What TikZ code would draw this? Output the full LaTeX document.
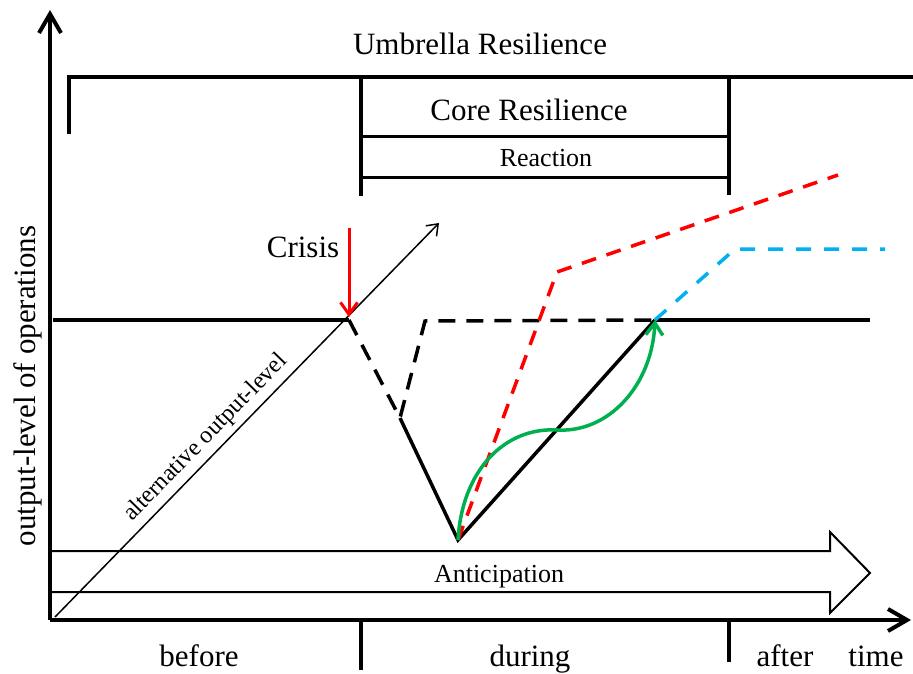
\documentclass[tikz,border=0pt]{standalone}
\usepackage{fontspec}
\setmainfont{Liberation Serif}
\usetikzlibrary{arrows.meta}
\definecolor{redline}{RGB}{255,0,0}
\definecolor{cyanline}{RGB}{0,176,240}
\definecolor{greenline}{RGB}{0,176,80}
\tikzset{
  lbl/.style={inner sep=0pt, anchor=base, font=\fontsize{31}{37}\selectfont},
  smalllbl/.style={inner sep=0pt, anchor=base, font=\fontsize{26}{31}\selectfont},
  axisline/.style={line width=4pt, -{Straight Barb[length=19pt,width=22pt]}},
  bracket/.style={line width=4pt},
  thinbracket/.style={line width=3pt},
  tickmark/.style={line width=4pt},
  levelline/.style={line width=3.5pt},
  curveline/.style={line width=3.5pt, line join=miter},
  blackdash/.style={line width=3.5pt, dash pattern=on 17pt off 11pt},
  reddash/.style={line width=3.5pt, redline, dash pattern=on 15pt off 11pt},
  cyandash/.style={line width=3.5pt, cyanline, dash pattern=on 15pt off 13pt},
  greenarc/.style={line width=3.5pt, greenline, -{Straight Barb[length=12pt,width=17pt]}},
  crisisarrow/.style={line width=3pt, redline, -{Straight Barb[length=12pt,width=17pt]}},
  diagarrow/.style={line width=1.5pt, -{Straight Barb[length=10pt,width=15pt]}},
  anticip/.style={line width=2pt, line join=miter},
}
\begin{document}
\begin{tikzpicture}[x=1pt,y=-1pt]
\useasboundingbox (0,0) rectangle (913,674);

% key points
\coordinate (origin) at (50,620);
\coordinate (ytip) at (50,10);
\coordinate (xtip) at (911,620);
\coordinate (lvlL) at (53,320);
\coordinate (crisis) at (349,320);
\coordinate (vtop) at (400,418);
\coordinate (dashup) at (425,321);
\coordinate (bottom) at (458,540);
\coordinate (peak) at (655,320);
\coordinate (lvlR) at (870,320);
\coordinate (redkink) at (557,272);
\coordinate (redend) at (838,175);
\coordinate (cyankink) at (735,249);
\coordinate (cyanend) at (885,249);
\coordinate (gmid) at (557,430);
\coordinate (diagS) at (55,617);
\coordinate (diagE) at (439,223);
\coordinate (crisisS) at (349,228);
\coordinate (crisisE) at (349,317);

% bracket coordinates
\coordinate (uL) at (69,134);
\coordinate (uLt) at (69,77);
\coordinate (uR) at (913,77);
\coordinate (cLt) at (361,77);
\coordinate (cLb) at (361,196);
\coordinate (cRt) at (729,77);
\coordinate (cRb) at (729,195);
\coordinate (c1L) at (361,137);
\coordinate (c1R) at (729,137);
\coordinate (c2L) at (361,177);
\coordinate (c2R) at (729,177);

% ticks
\coordinate (t1a) at (361,620);
\coordinate (t1b) at (361,670);
\coordinate (t2a) at (729,620);
\coordinate (t2b) at (729,662);

% anticipation arrow
\coordinate (a1) at (52,551);
\coordinate (a2) at (830,551);
\coordinate (a3) at (830,532);
\coordinate (a4) at (870,573);
\coordinate (a5) at (830,613);
\coordinate (a6) at (830,592);
\coordinate (a7) at (52,592);

% Anticipation block arrow
\draw[anticip] (a1) -- (a2) -- (a3) -- (a4) -- (a5) -- (a6) -- (a7);
\node[smalllbl] (anticipation) at (499,582) {Anticipation};

% brackets
\draw[bracket] (uL) -- (uLt) -- (uR);
\draw[bracket] (cLt) -- (cLb);
\draw[bracket] (cRt) -- (cRb);
\draw[thinbracket] (c1L) -- (c1R);
\draw[thinbracket] (c2L) -- (c2R);

% labels top
\node[lbl] (umbrella) at (480,55) {Umbrella Resilience};
\node[lbl] (core) at (529,121) {Core Resilience};
\node[smalllbl] (reaction) at (546,167) {Reaction};
\node[lbl] (crisislbl) at (303,257) {Crisis};

% diagonal alternative output level
\draw[diagarrow] (diagS) -- (diagE);
\node[inner sep=0pt, anchor=base, rotate=45.7, font=\fontsize{24}{29}\selectfont] (altlbl) at (210,442) {alternative output-level};

% level lines
\draw[levelline] (lvlL) -- (crisis);
\draw[levelline] (peak) -- (lvlR);

% dashed black
\draw[blackdash] (crisis) -- (vtop) -- (dashup) -- (peak);

% solid curve
\draw[curveline] (vtop) -- (bottom) -- (peak);

% red dashed
\draw[reddash] (bottom) -- (redkink) -- (redend);

% cyan dashed
\draw[cyandash] (peak) -- (cyankink) -- (cyanend);

% green curve
\draw[greenarc] (bottom) .. controls (462,470) and (505,427) .. (gmid) .. controls (609,433) and (652,385) .. (peak);

% crisis arrow
\draw[crisisarrow] (crisisS) -- (crisisE);

% axes
\draw[axisline] (origin) -- (ytip);
\draw[axisline] (origin) -- (xtip);
\draw[tickmark] (t1a) -- (t1b);
\draw[tickmark] (t2a) -- (t2b);

% axis labels
\node[lbl, rotate=90] (ylbl) at (35,386) {output-level of operations};
\node[lbl] (before) at (199,666) {before};
\node[lbl] (during) at (530,666) {during};
\node[lbl] (after) at (785,666) {after};
\node[lbl] (time) at (876,666) {time};
\end{tikzpicture}
\end{document}
